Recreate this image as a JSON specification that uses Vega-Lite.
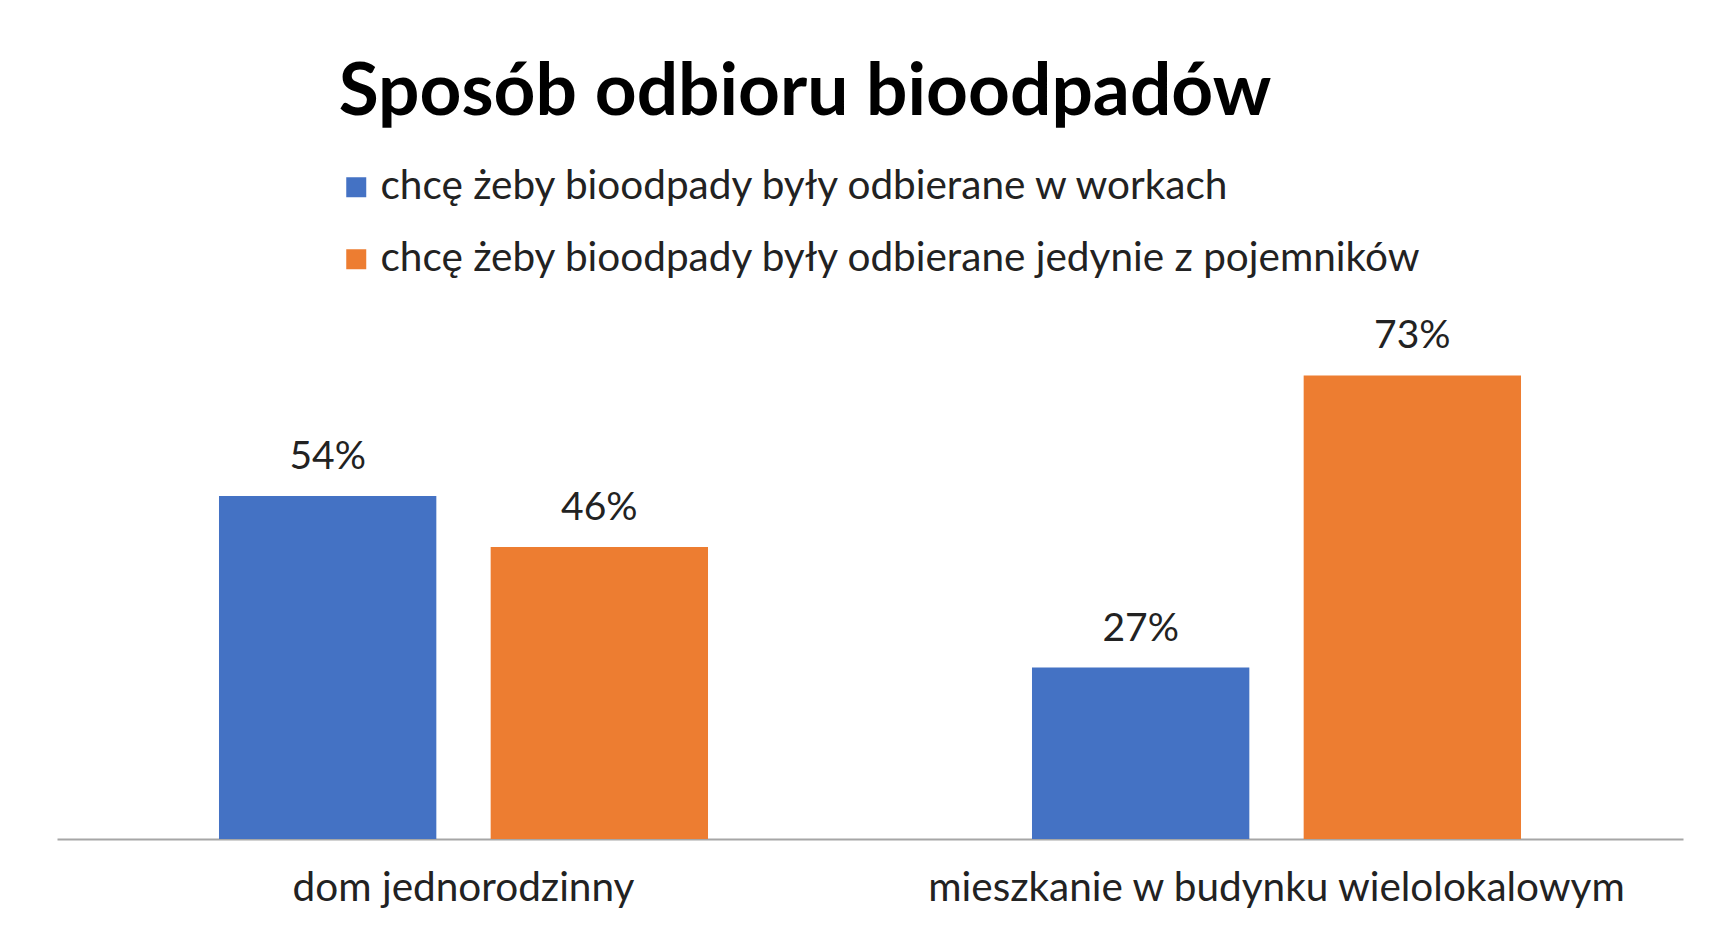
{
  "$schema": "https://vega.github.io/schema/vega-lite/v6.json",
  "width": 1626,
  "height": 508,
  "autosize": "none",
  "padding": {"left": 57, "top": 331, "right": 33, "bottom": 92},
  "background": "white",
  "title": {
    "text": "Sposób odbioru bioodpadów",
    "font": "Lato",
    "fontSize": 73,
    "fontWeight": "bold",
    "color": "#000000",
    "anchor": "middle",
    "baseline": "alphabetic",
    "dx": -65,
    "offset": -21
  },
  "data": {
    "values": [
      {"typ": "dom jednorodzinny", "opcja": "chcę żeby bioodpady były odbierane w workach", "udzial": 0.54},
      {"typ": "dom jednorodzinny", "opcja": "chcę żeby bioodpady były odbierane jedynie z pojemników", "udzial": 0.46},
      {"typ": "mieszkanie w budynku wielolokalowym", "opcja": "chcę żeby bioodpady były odbierane w workach", "udzial": 0.27},
      {"typ": "mieszkanie w budynku wielolokalowym", "opcja": "chcę żeby bioodpady były odbierane jedynie z pojemników", "udzial": 0.73}
    ]
  },
  "encoding": {
    "x": {
      "field": "typ",
      "type": "nominal",
      "sort": ["dom jednorodzinny", "mieszkanie w budynku wielolokalowym"],
      "scale": {"paddingInner": 0.3985, "paddingOuter": 0.19925},
      "title": null,
      "axis": {
        "labelAngle": 0,
        "labelFont": "Lato",
        "labelFontSize": 40.5,
        "labelColor": "#222222",
        "labelBaseline": "alphabetic",
        "labelPadding": 61,
        "labelLimit": 0,
        "ticks": false,
        "tickSize": 0,
        "domainColor": "#a6a6a6",
        "domainWidth": 2,
        "grid": false
      }
    },
    "xOffset": {
      "field": "opcja",
      "type": "nominal",
      "sort": ["chcę żeby bioodpady były odbierane w workach", "chcę żeby bioodpady były odbierane jedynie z pojemników"],
      "scale": {"paddingInner": 0.2, "paddingOuter": 0}
    },
    "y": {
      "field": "udzial",
      "type": "quantitative",
      "scale": {"domain": [0, 0.8]},
      "axis": null
    }
  },
  "layer": [
    {
      "mark": {"type": "bar"},
      "encoding": {
        "color": {
          "field": "opcja",
          "type": "nominal",
          "sort": ["chcę żeby bioodpady były odbierane w workach", "chcę żeby bioodpady były odbierane jedynie z pojemników"],
          "scale": {"range": ["#4472C4", "#ED7D31"]},
          "legend": {
            "orient": "none",
            "legendX": 279,
            "legendY": -164,
            "direction": "vertical",
            "title": null,
            "symbolType": "square",
            "symbolSize": 400,
            "symbolStrokeWidth": 0,
            "labelFont": "Lato",
            "labelFontSize": 40.5,
            "labelColor": "#222222",
            "labelOffset": 4,
            "labelLimit": 0,
            "rowPadding": 31,
            "padding": 0
          }
        }
      }
    },
    {
      "mark": {"type": "text", "font": "Lato", "fontSize": 39, "color": "#222222", "baseline": "alphabetic", "align": "center", "dy": -27},
      "encoding": {
        "text": {"field": "udzial", "type": "quantitative", "format": ".0%"}
      }
    }
  ],
  "config": {"view": {"stroke": null}}
}
